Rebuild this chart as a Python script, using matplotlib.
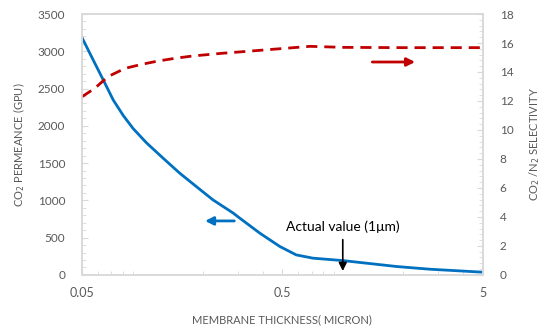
import matplotlib.pyplot as plt
from matplotlib.ticker import MultipleLocator, LogLocator, NullFormatter, FixedLocator, FixedFormatter

# membrane thickness (micron)
thick_perm = [0.05, 0.0569, 0.0651, 0.0716, 0.0805, 0.0901, 0.1049, 0.1271, 0.1538,
              0.1862, 0.2253, 0.2838, 0.305, 0.386, 0.486, 0.586, 0.711, 1.0,
              1.86, 2.72, 5.0]
# CO2 permeance (GPU)
permeance = [3185, 2883, 2571, 2347, 2135, 1962, 1772, 1565, 1364,
             1184, 1006, 830, 765, 559, 380, 268, 224, 192,
             112, 76, 36]

thick_sel = [0.05, 0.058, 0.0674, 0.082, 0.0994, 0.12, 0.145, 0.177, 0.249, 0.316,
             0.47, 0.687, 1.0, 2.0, 5.0]
# CO2/N2 selectivity
selectivity = [12.29, 12.88, 13.68, 14.25, 14.53, 14.76, 14.94, 15.10, 15.29, 15.40,
               15.59, 15.77, 15.70, 15.68, 15.68]

gray = '#595959'
spine = '#d9d9d9'
plt.rcParams['font.family'] = ['Lato', 'DejaVu Sans']

fig = plt.figure(figsize=(5.5, 3.34), dpi=100)
ax = fig.add_axes([0.149, 0.177, 0.729, 0.781])
ax2 = ax.twinx()

ax.plot(thick_perm, permeance, color='#0070c0', lw=2.0)
ax2.plot(thick_sel, selectivity, color='#c00000', lw=2.0, ls=(0, (4, 2.5)))

ax.set_xscale('log')
ax.set_xlim(0.05, 5)
ax.set_ylim(0, 3500)
ax2.set_ylim(0, 18)

ax.xaxis.set_major_locator(FixedLocator([0.05, 0.5, 5]))
ax.xaxis.set_major_formatter(FixedFormatter(['0.05', '0.5', '5']))
ax.xaxis.set_minor_locator(LogLocator(base=10, subs=range(2, 10)))
ax.xaxis.set_minor_formatter(NullFormatter())
ax.yaxis.set_major_locator(MultipleLocator(500))
ax.yaxis.set_minor_locator(MultipleLocator(100))
ax2.yaxis.set_major_locator(MultipleLocator(2))
ax2.yaxis.set_minor_locator(MultipleLocator(0.4))

for a in (ax, ax2):
    for s in a.spines.values():
        s.set_color(spine)
        s.set_linewidth(1.2)
    a.tick_params(which='both', direction='in', color=spine, labelcolor=gray,
                  labelsize=8.5)
    a.tick_params(which='major', length=4, pad=12)
    a.tick_params(which='minor', length=3)

ax.tick_params(axis='x', which='major', pad=9, labelsize=9)

ax.set_xlabel('MEMBRANE THICKNESS( MICRON)', color=gray, fontsize=8, labelpad=11)
ax.set_ylabel('CO$_2$ PERMEANCE (GPU)', color=gray, fontsize=8, labelpad=8)
ax2.set_ylabel('CO$_2$ /N$_2$ SELECTIVITY', color=gray, fontsize=8, labelpad=10)

ax.annotate('', xy=(0.199, 724), xytext=(0.297, 724),
            arrowprops=dict(arrowstyle='-|>', color='#0070c0', lw=2, mutation_scale=12))
ax2.annotate('', xy=(2.37, 14.69), xytext=(1.36, 14.69),
             arrowprops=dict(arrowstyle='-|>', color='#c00000', lw=2, mutation_scale=12))
ax.annotate('', xy=(1.0, 15), xytext=(1.0, 510),
            arrowprops=dict(arrowstyle='-|>', color='black', lw=1.2, mutation_scale=12))
ax.text(1.0, 560, 'Actual value (1\u03bcm)', ha='center', va='bottom', fontsize=10,
        color='black')

fig.savefig('out.png', dpi=100)
